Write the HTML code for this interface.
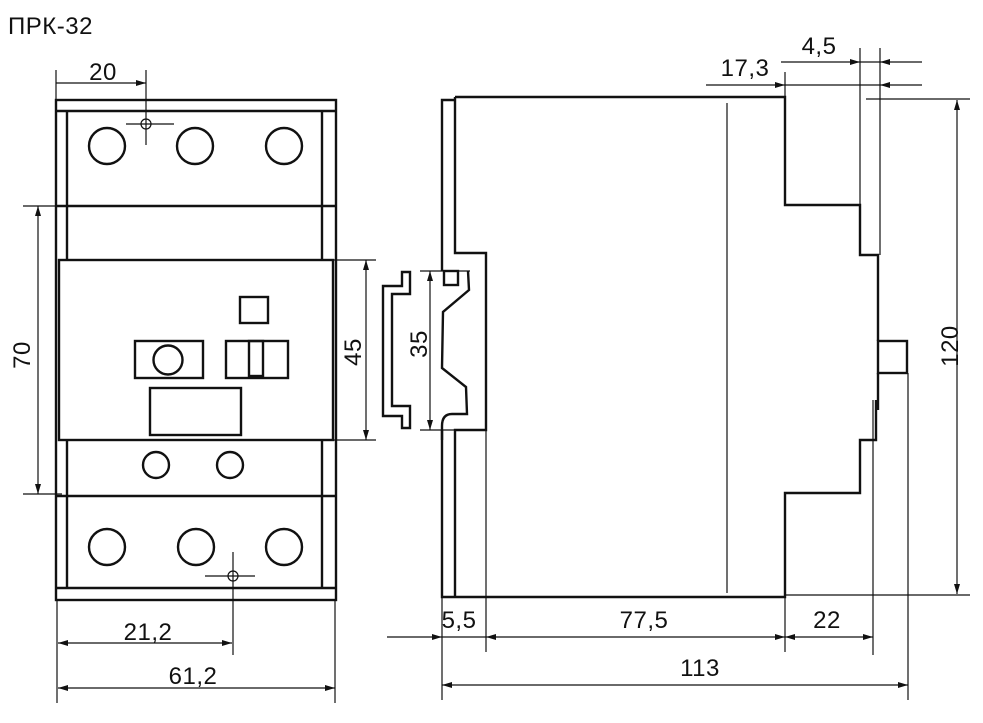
<!DOCTYPE html>
<html><head><meta charset="utf-8"><style>
html,body{margin:0;padding:0;background:#fff;width:983px;height:723px;overflow:hidden}
svg text{font-family:"Liberation Sans","DejaVu Sans",sans-serif;font-size:24px;fill:#111;letter-spacing:0.5px}
</style></head><body>
<svg width="983" height="723" viewBox="0 0 983 723" xmlns="http://www.w3.org/2000/svg">
<defs>
<marker id="a" viewBox="0 0 10 6" refX="10" refY="3" markerWidth="10" markerHeight="6" orient="auto-start-reverse" markerUnits="userSpaceOnUse"><path d="M0,0 L10,3 L0,6 Z" fill="#111"/></marker>
</defs>
<text x="8" y="34" style="font-size:24px">ПРК-32</text>
<g fill="none" stroke="#111" stroke-width="2.4">
<rect x="56" y="100" width="280" height="500"/>
<line x1="56" y1="111" x2="336" y2="111"/>
<line x1="56" y1="588" x2="336" y2="588"/>
<line x1="67" y1="111" x2="67" y2="260"/><line x1="67" y1="440" x2="67" y2="588"/>
<line x1="322" y1="111" x2="322" y2="260"/><line x1="322" y1="440" x2="322" y2="588"/>
<line x1="56" y1="206" x2="336" y2="206"/>
<line x1="56" y1="496" x2="336" y2="496"/>
<rect x="59" y="260" width="274" height="180" fill="#fff"/>
<circle cx="107" cy="146" r="18"/><circle cx="195" cy="146" r="18"/><circle cx="284" cy="146" r="18"/>
<circle cx="107" cy="547" r="18"/><circle cx="196" cy="547" r="18"/><circle cx="284" cy="547" r="18"/>
<circle cx="156" cy="465" r="13"/><circle cx="230" cy="465" r="13"/>
<rect x="240" y="297" width="28" height="26"/>
<rect x="135" y="341" width="68" height="37"/>
<circle cx="168" cy="360" r="14.5"/>
<rect x="226" y="341" width="62" height="37"/>
<rect x="249" y="341" width="14" height="35"/>
<rect x="150" y="388" width="91" height="47"/>
<path d="M442,271 V100 H455"/>
<path d="M455,97 H785 V205 H860 V255 H878 V341"/>
<path d="M878,373 V410"/>
<path d="M876,400 V440 H860 V493 H785 V597 H442 V430"/>
<path d="M455,97 V253 H486 V430 H455 V597"/>
<rect x="878" y="341" width="29" height="32"/>
<rect x="444" y="271" width="14" height="14"/>
<path d="M468,271 L469,290 L443,312 L442,368 L466,387 L467,414 L452,414 Q442,414 442,426 L442,440"/>
<path d="M383,286 H402 V272 H410 V294 H392 V406 H410 V428 H402 V416 H383 Z"/>
</g>
<g fill="none" stroke="#111" stroke-width="1.2">
<line x1="727" y1="103" x2="727" y2="593"/>
<line x1="873" y1="400" x2="873" y2="655"/>
<line x1="860" y1="48" x2="860" y2="205"/>
<line x1="880" y1="48" x2="880" y2="255"/>
<line x1="785" y1="72" x2="785" y2="97"/>
<line x1="866" y1="99" x2="970" y2="99"/>
<line x1="785" y1="595" x2="970" y2="595"/>
<line x1="706" y1="85" x2="785" y2="85" marker-end="url(#a)"/>
<line x1="785" y1="85" x2="880" y2="85"/>
<line x1="922" y1="85" x2="880" y2="85" marker-end="url(#a)"/>
<line x1="781" y1="62" x2="860" y2="62" marker-end="url(#a)"/>
<line x1="860" y1="62" x2="880" y2="62"/>
<line x1="922" y1="62" x2="880" y2="62" marker-end="url(#a)"/>
<line x1="957" y1="100" x2="957" y2="594" marker-start="url(#a)" marker-end="url(#a)"/>
<line x1="442" y1="597" x2="442" y2="700"/>
<line x1="486" y1="430" x2="486" y2="652"/>
<line x1="785" y1="597" x2="785" y2="652"/>
<line x1="908" y1="373" x2="908" y2="700"/>
<line x1="387" y1="637" x2="442" y2="637" marker-end="url(#a)"/>
<line x1="442" y1="637" x2="486" y2="637"/>
<line x1="486" y1="637" x2="785" y2="637" marker-start="url(#a)" marker-end="url(#a)"/>
<line x1="785" y1="637" x2="873" y2="637" marker-start="url(#a)" marker-end="url(#a)"/>
<line x1="442" y1="685" x2="908" y2="685" marker-start="url(#a)" marker-end="url(#a)"/>
<line x1="420" y1="271" x2="470" y2="271"/>
<line x1="420" y1="430" x2="486" y2="430"/>
<line x1="430" y1="271" x2="430" y2="430" marker-start="url(#a)" marker-end="url(#a)"/>
<line x1="56" y1="70" x2="56" y2="100"/>
<line x1="146" y1="70" x2="146" y2="145"/>
<line x1="56" y1="83" x2="146" y2="83" marker-end="url(#a)"/>
<line x1="126" y1="124" x2="174" y2="124"/>
<circle cx="146" cy="124" r="5"/>
<line x1="205" y1="576" x2="255" y2="576"/>
<line x1="233" y1="552" x2="233" y2="655"/>
<circle cx="233" cy="576" r="5"/>
<line x1="23" y1="206" x2="62" y2="206"/>
<line x1="23" y1="494" x2="62" y2="494"/>
<line x1="38" y1="206" x2="38" y2="494" marker-start="url(#a)" marker-end="url(#a)"/>
<line x1="333" y1="260" x2="376" y2="260"/>
<line x1="333" y1="440" x2="376" y2="440"/>
<line x1="366" y1="260" x2="366" y2="440" marker-start="url(#a)" marker-end="url(#a)"/>
<line x1="57" y1="600" x2="57" y2="703"/>
<line x1="335" y1="600" x2="335" y2="703"/>
<line x1="58" y1="643" x2="232" y2="643" marker-start="url(#a)" marker-end="url(#a)"/>
<line x1="58" y1="688" x2="335" y2="688" marker-start="url(#a)" marker-end="url(#a)"/>
</g>
<g text-anchor="middle">
<text x="103" y="80">20</text>
<text x="148" y="640">21,2</text>
<text x="193" y="684">61,2</text>
<text x="745" y="76">17,3</text>
<text x="819" y="54">4,5</text>
<text x="459" y="628">5,5</text>
<text x="644" y="628">77,5</text>
<text x="827" y="628">22</text>
<text x="700" y="676">113</text>
<text transform="translate(30,355) rotate(-90)">70</text>
<text transform="translate(361,352) rotate(-90)">45</text>
<text transform="translate(427,344) rotate(-90)">35</text>
<text transform="translate(958,346) rotate(-90)">120</text>
</g>
</svg>
</body></html>
